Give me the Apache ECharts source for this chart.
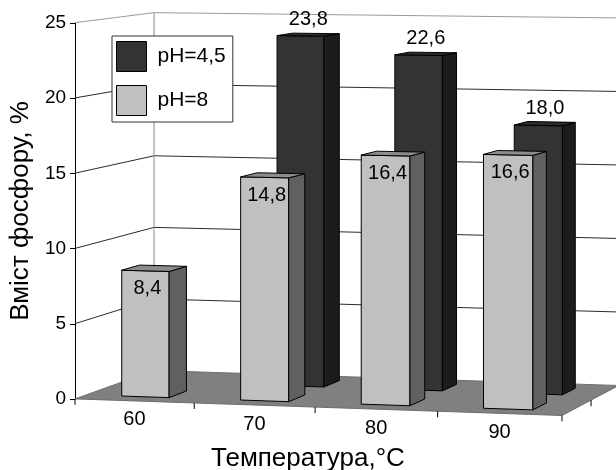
<!DOCTYPE html>
<html><head><meta charset="utf-8">
<script src="https://cdn.jsdelivr.net/npm/echarts@6.0.0/dist/echarts.min.js"></script>
<style>html,body{margin:0;padding:0;background:#fff}#c{width:616px;height:470px}</style>
</head><body><div id="c"></div>
<script>
// ---- data ----
const categories = ['60', '70', '80', '90'];
const seriesNames = ['pH=4,5', 'pH=8'];
const valuesPH45 = [null, 23.8, 22.6, 18.0];
const valuesPH8 = [8.4, 14.8, 16.4, 16.6];
const yTicks = [0, 5, 10, 15, 20, 25];
const yTitle = 'Вміст фосфору, %';
const xTitle = 'Температура,°C';

// ---- perspective camera (two-point, vertical picture plane) ----
const Y_MAX = 25;
const CAM = { f: 4891, th: 15.8 * Math.PI / 180, tx: -15.48, tz: 325, H: 38.6, px: 308, hy: -182, L: 33.14, D: 17.35 };
const COS = Math.cos(CAM.th), SIN = Math.sin(CAM.th);
function proj(u, w, Y) {
  const X = u * CAM.L, Z = w * CAM.D;
  const xc = X * COS + Z * SIN + CAM.tx;
  const zc = -X * SIN + Z * COS + CAM.tz;
  return [CAM.px + CAM.f * xc / zc, CAM.hy + CAM.f * (CAM.H - Y) / zc];
}
const BAR_W = 0.4;   // fraction of category width
const BAR_D = 0.45;  // fraction of row depth
const ROWS = 2;
const FONT = 'Liberation Sans, Arial, sans-serif';

function toWorld(params, api, idx, val) {
  const cs = params.coordSys;
  const p = api.coord([idx, val]);
  return { u: (p[0] - cs.x) / cs.width, Y: (cs.y + cs.height - p[1]) / cs.height * Y_MAX };
}
function fmt(v) { return v.toFixed(1).replace('.', ','); }

function barRender(row, front, side, top) {
  return function (params, api) {
    const v = api.value(1);
    if (v == null || isNaN(v)) return null;
    const w = toWorld(params, api, api.value(0), v);
    const hu = BAR_W / 2 / categories.length;
    const u0 = w.u - hu, u1 = w.u + hu;
    const wc = (row + 0.5) / ROWS, hw = BAR_D / 2 / ROWS;
    const w0 = wc - hw, w1 = wc + hw;
    const Y = w.Y;
    const A = proj(u0, w0, 0), B = proj(u1, w0, 0), C = proj(u1, w0, Y), Dp = proj(u0, w0, Y);
    const B2 = proj(u1, w1, 0), C2 = proj(u1, w1, Y), D2 = proj(u0, w1, Y);
    const st = { stroke: '#000', lineWidth: 1 };
    const children = [
      { type: 'polygon', shape: { points: [A, B, C, Dp] }, style: Object.assign({ fill: front }, st) },
      { type: 'polygon', shape: { points: [B, B2, C2, C] }, style: Object.assign({ fill: side }, st) },
      { type: 'polygon', shape: { points: [Dp, C, C2, D2] }, style: Object.assign({ fill: top }, st) }
    ];
    let lp;
    if (row === 1) {
      const t = proj(w.u, wc, Y);
      lp = [t[0], t[1] - 15];
    } else {
      const t = proj(w.u, w0, Y);
      lp = [t[0] + 2, t[1] + 18];
    }
    children.push({ type: 'text', x: lp[0], y: lp[1], style: { text: fmt(v), fill: '#000', font: '20px ' + FONT, align: 'center', verticalAlign: 'middle', textAlign: 'center', textVerticalAlign: 'middle' } });
    return { type: 'group', children };
  };
}

function wallRender(params, api) {
  const t = api.value(1);
  const w = toWorld(params, api, 0, t);
  const Y = w.Y;
  const children = [];
  if (t === 0) {
    children.push({ type: 'polygon', shape: { points: [proj(0, 0, 0), proj(1, 0, 0), proj(1, 1, 0), proj(0, 1, 0)] }, style: { fill: '#808080', stroke: '#6e6e6e', lineWidth: 1 } });
  } else {
    const col = t === Y_MAX ? '#9a9a9a' : '#2a2a2a';
    children.push({ type: 'polyline', shape: { points: [proj(0, 0, Y), proj(0, 1, Y), proj(1, 1, Y)] }, style: { stroke: col, lineWidth: 1, fill: null } });
    if (t === Y_MAX) {
      children.push({ type: 'line', shape: { x1: proj(0, 1, 0)[0], y1: proj(0, 1, 0)[1], x2: proj(0, 1, Y)[0], y2: proj(0, 1, Y)[1] }, style: { stroke: '#8a8a8a', lineWidth: 1 } });
    }
  }
  return { type: 'group', children };
}

function catRender(params, api) {
  const i = api.value(0);
  const w = toWorld(params, api, i, 0);
  const hu = 0.5 / categories.length;
  const children = [];
  const ticks = [w.u - hu];
  if (i === categories.length - 1) ticks.push(w.u + hu);
  ticks.forEach(function (u) {
    const p = proj(u, 0, 0);
    children.push({ type: 'line', shape: { x1: p[0], y1: p[1], x2: p[0], y2: p[1] + 6 }, style: { stroke: '#000', lineWidth: 1 } });
  });
  if (i === categories.length - 1) {
    for (let r = 1; r < ROWS; r++) {
      const p = proj(1, r / ROWS, 0);
      children.push({ type: 'line', shape: { x1: p[0], y1: p[1], x2: p[0], y2: p[1] + 6 }, style: { stroke: '#000', lineWidth: 1 } });
    }
  }
  const c = proj(w.u, 0, 0);
  children.push({ type: 'text', x: c[0], y: c[1] + 19, style: { text: categories[i], fill: '#000', font: '20px ' + FONT, align: 'center', verticalAlign: 'middle', textAlign: 'center', textVerticalAlign: 'middle' } });
  return { type: 'group', children };
}

const chart = echarts.init(document.getElementById('c'), null, { renderer: 'canvas' });
chart.setOption({
  animation: false,
  backgroundColor: '#fff',
  title: { text: xTitle, left: 211, top: 446, padding: 0, textStyle: { fontSize: 26, fontWeight: 'normal', color: '#000', fontFamily: FONT } },
  legend: {
    orient: 'vertical', left: 112, top: 36, z: 10,
    data: seriesNames, icon: 'rect', itemWidth: 30, itemHeight: 30, itemGap: 13,
    backgroundColor: '#fff', borderColor: '#333', borderWidth: 1, borderRadius: 0,
    padding: [5, 7, 6, 4],
    itemStyle: { borderColor: '#000', borderWidth: 1 },
    textStyle: { fontSize: 21, fontFamily: FONT, color: '#000', padding: [0, 0, 0, 6] }
  },
  grid: { left: 75, top: 23, width: 487, height: 376 },
  xAxis: { type: 'category', data: categories, show: false },
  yAxis: {
    type: 'value', min: 0, max: Y_MAX, interval: 5,
    name: yTitle, nameLocation: 'middle', nameGap: 36, nameRotate: 90,
    nameTextStyle: { fontSize: 26, fontFamily: FONT, color: '#000' },
    axisLine: { show: true, lineStyle: { color: '#000', width: 1 } },
    axisTick: { show: true, length: 5, lineStyle: { color: '#000' } },
    axisLabel: { fontSize: 19, fontFamily: FONT, color: '#000', margin: 9 },
    splitLine: { show: false }
  },
  series: [
    { type: 'custom', name: '_walls', z: 1, clip: false, silent: true, renderItem: wallRender, data: yTicks.map(function (t) { return [0, t]; }) },
    { type: 'custom', name: '_cats', z: 1, clip: false, silent: true, renderItem: catRender, data: categories.map(function (c, i) { return [i, 0]; }) },
    { type: 'custom', name: seriesNames[0], z: 2, clip: false, itemStyle: { color: '#333333' }, renderItem: barRender(1, '#333333', '#1c1c1c', '#2b2b2b'), data: valuesPH45.map(function (v, i) { return [i, v]; }) },
    { type: 'custom', name: seriesNames[1], z: 3, clip: false, itemStyle: { color: '#c0c0c0' }, renderItem: barRender(0, '#c0c0c0', '#606060', '#8c8c8c'), data: valuesPH8.map(function (v, i) { return [i, v]; }) }
  ]
});
</script>
</body></html>
